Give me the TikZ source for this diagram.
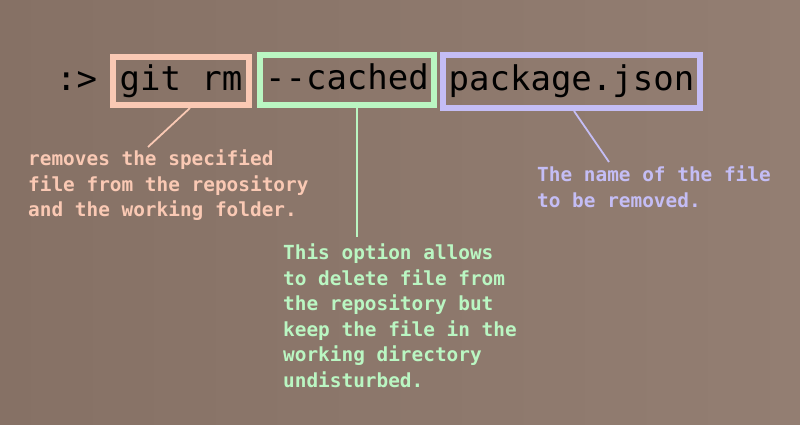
\documentclass[tikz,border=0pt]{standalone}
\usepackage{fontspec}
\setmonofont{DejaVu Sans Mono}
\usetikzlibrary{calc}
\definecolor{bgleft}{RGB}{134,113,101}
\definecolor{bgright}{RGB}{147,126,114}
\definecolor{salmon}{RGB}{250,201,180}
\definecolor{mint}{RGB}{186,246,194}
\definecolor{lavender}{RGB}{196,189,245}
\begin{document}
\begin{tikzpicture}[x=1pt, y=-1pt,
  cmdbox/.style={draw=#1, line width=6pt, inner sep=0pt, font=\ttfamily\fontsize{34}{34}\selectfont, text height=25pt, text depth=6pt},
  note/.style={text=#1, anchor=north west, inner sep=0pt, align=left, font=\ttfamily\bfseries\fontsize{19.4}{25.5}\selectfont},
  link/.style={draw=#1, line width=1.8pt}]
\useasboundingbox (0,0) rectangle (800,425);
\fill [left color=bgleft, right color=bgright] (0,0) rectangle (800,425);
%Command
\node [anchor=base west, inner sep=0pt, font=\ttfamily\fontsize{34}{34}\selectfont] (prompt) at (56,91) {:>};
\node [cmdbox=salmon, minimum width=136pt, minimum height=48pt] (gitrm) at (181,81) {git rm};
\node [cmdbox=mint, minimum width=174pt, minimum height=50pt] (cached) at (347,80) {-{}-cached};
\node [cmdbox=lavender, minimum width=257pt, minimum height=53pt] (pkg) at (571.5,81.5) {package.json};
%Text
\node [note=salmon] (rmnote) at (28,150) {removes the specified\\file from the repository\\and the working folder.};
\node [note=mint] (cachednote) at (283,244) {This option allows\\to delete file from\\the repository but\\keep the file in the\\working directory\\undisturbed.};
\node [note=lavender] (pkgnote) at (537,166) {The name of the file\\to be removed.};
%Links
\coordinate (rmend) at (148,147);
\coordinate (cachedend) at (357,237);
\coordinate (pkgend) at (609,162);
\draw [link=salmon] ($(gitrm.south)+(9,0)$) -- (rmend);
\draw [link=mint] ($(cached.south)+(10,0)$) -- (cachedend);
\draw [link=lavender] ($(pkg.south)+(2.5,0)$) -- (pkgend);
\end{tikzpicture}
\end{document}
